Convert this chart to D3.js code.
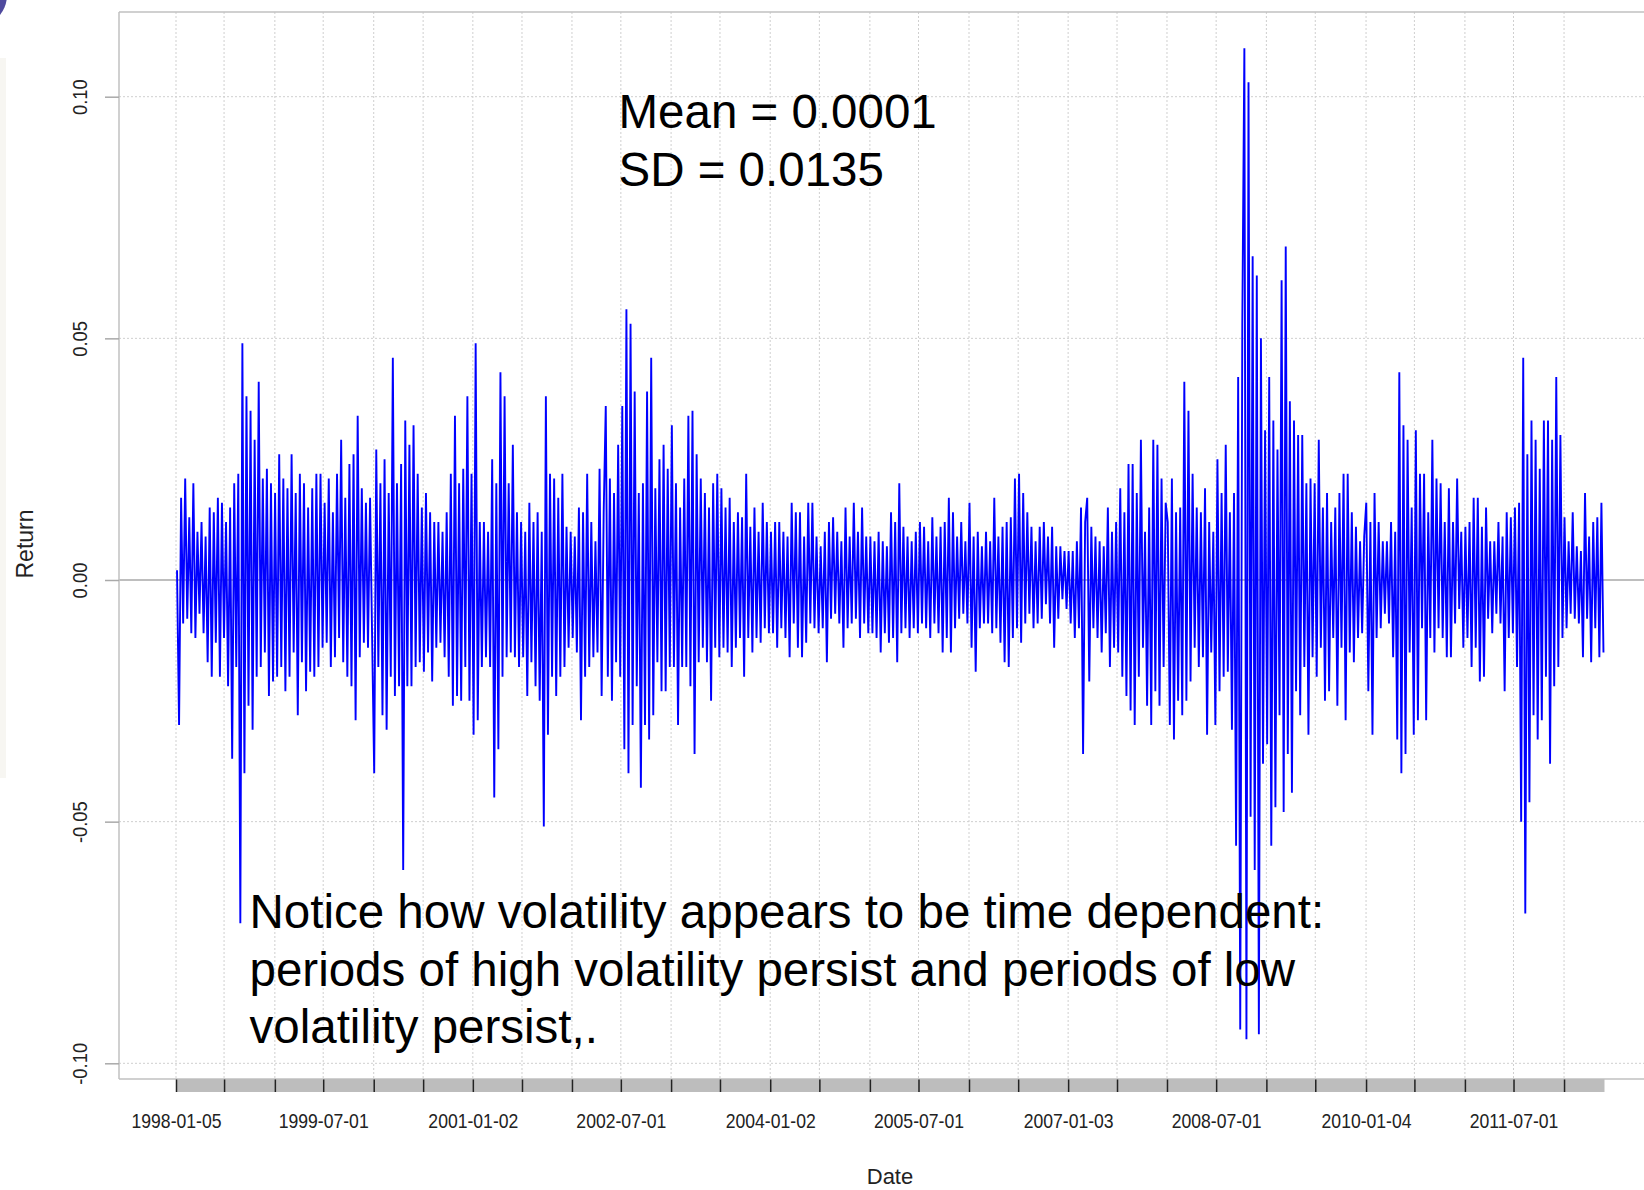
<!DOCTYPE html>
<html>
<head>
<meta charset="utf-8">
<script src="https://cdn.jsdelivr.net/npm/d3@7"></script>
<style>
  body { margin: 0; background: #fff; }
  svg { display: block; font-family: "Liberation Sans", Arial, sans-serif; }
</style>
</head>
<body>
<div id="chart"></div>
<script>
// daily returns x 1000
// (about one reading every 2px, taken alternately at the top and bottom of the band)
var ret1998 = [2, -30, 17, -9, 21, -8, 13, -11, 20, -12, 10, -7, 12, -11, 9, -17, 15, -20, 14, -13, 17, -20, 16, -12,
  12, -22, 15, -37, 20, -18, 22, -71, 49, -40, 38, -26, 35, -31, 29, -20, 41, -18, 21, -15, 23, -24, 20, -21];
var ret1999 = [18, -20, 26, -18, 21, -23, 19, -20, 26, -15, 18, -28, 22, -17, 20, -23, 15, -19, 19, -20, 22, -18, 22, -14,
  16, -13, 21, -18, 14, -16, 22, -12, 29, -17, 17, -20, 24, -22, 26, -29, 34, -16, 19, -13, 16, -14, 17, -12];
var ret2000 = [-40, 27, -18, 20, -28, 25, -31, 18, -20, 46, -24, 20, -22, 24, -60, 33, -22, 28, -22, 32, -18, 22, -17, 15,
  -19, 18, -15, 14, -21, 12, -14, 12, -13, 10, -16, 14, -20, 22, -26, 34, -24, 20, -25, 23, -18, 38, -25, 22];
var ret2001 = [-32, 49, -29, 12, -18, 12, -16, 10, -18, 25, -45, 20, -35, 43, -20, 38, -16, 20, -15, 28, -16, 14, -18, 12,
  -16, 10, -24, 16, -17, 12, -22, 14, -25, 10, -51, 38, -32, 22, -20, 21, -24, 17, -20, 22, -18, 11, -14, 10];
var ret2002 = [-12, 9, -15, 15, -29, 14, -20, 22, -18, 12, -16, 8, -15, 23, -24, 14, 36, -20, 21, -25, 18, -17, 28, -20,
  36, -35, 56, -40, 53, -30, 39, -22, 18, -43, 20, -30, 39, -33, 46, -28, 19, -17, 25, -23, 28, -23, 23, -18];
var ret2003 = [32, -18, 20, -30, 15, -18, 21, -18, 34, -22, 35, -36, 26, -17, 21, -14, 18, -17, 15, -25, 20, -14, 22, -16,
  19, -14, 15, -15, 17, -18, 12, -14, 14, -12, 13, -20, 22, -12, 11, -15, 15, -12, 10, -13, 16, -10, 12, -11];
var ret2004 = [10, -11, 12, -14, 12, -10, 10, -12, 9, -16, 16, -9, 14, -14, 14, -16, 9, -13, 16, -9, 16, -10, 9, -11,
  7, -10, 10, -17, 12, -8, 13, -7, 10, -9, 8, -14, 15, -10, 9, -9, 16, -8, 10, -12, 15, -9, 9, -11];
var ret2005 = [9, -11, 8, -12, 10, -15, 8, -11, 7, -13, 14, -12, 12, -17, 20, -11, 11, -10, 9, -12, 8, -10, 10, -11,
  12, -9, 11, -10, 8, -12, 13, -9, 9, -11, 11, -15, 12, -12, 17, -15, 14, -10, 9, -8, 12, -7, 8, -9];
var ret2006 = [16, -14, 9, -19, 10, -10, 7, -9, 10, -9, 8, -11, 17, -10, 9, -13, 11, -17, 12, -18, 13, -12, 21, -10,
  22, -13, 18, -9, 14, -7, 11, -10, 8, -9, 11, -8, 12, -5, 9, -9, 11, -14, 7, -8, 7, -4, 6, -6];
var ret2007 = [6, -9, 6, -12, 8, -10, 15, -36, 12, 17, -21, 11, -10, 9, -12, 8, -15, 7, -11, 15, -18, 10, -14, 12,
  -15, 19, -20, 14, -24, 24, -27, 24, -30, 18, -20, 29, -14, 10, -26, 15, -30, 29, -23, 28, -26, 21, -18, 16];
var ret2008 = [12, -30, 21, -33, 14, -25, 15, -28, 41, -25, 35, -21, 22, -14, 15, -18, 14, -16, 19, -32, 12, -15, 10, -30,
  25, -23, 18, -20, 28, -19, 14, -31, 18, -55, 42, -93, 53, 110, -95, 103, -49, 67, -60, 63, -94, 50, -38, 31];
var ret2009 = [-34, 42, -55, 33, -47, 27, -28, 62, -48, 69, -36, 37, -44, 33, -23, 30, -28, 30, -18, 20, -32, 21, -16, 20,
  -20, 29, -14, 15, -25, 18, -23, 12, -12, 15, -26, 18, -14, 22, -29, 22, -15, 14, -17, 11, -12, 8, -11, 9];
var ret2010 = [16, -23, 12, -32, 18, -12, 12, -10, 8, -7, 8, -9, 12, -16, 10, -33, 43, -40, 32, -36, 29, -15, 15, -32,
  31, -29, 22, -10, 22, -29, 14, -12, 29, -15, 21, -10, 20, -12, 12, -16, 19, -16, 12, -9, 21, -6, 10, -14];
var ret2011 = [11, -12, 12, -18, 17, -14, 17, -21, 11, -20, 15, -8, 8, -11, 8, -7, 12, -9, 9, -23, 14, -12, 13, -11,
  15, -18, 16, -50, 46, -69, 26, -46, 33, -28, 29, -33, 23, -29, 33, -20, 33, -38, 29, -22, 42, -18, 30, -12];
var ret2012 = [13, -10, 8, -7, 14, -8, 7, -9, 6, -16, 18, -8, 9, -17, 12, -10, 13, -16, 16, -15];

var years = [1998, 1999, 2000, 2001, 2002, 2003, 2004, 2005, 2006, 2007, 2008, 2009, 2010, 2011, 2012];
var yearData = [ret1998, ret1999, ret2000, ret2001, ret2002, ret2003, ret2004, ret2005, ret2006, ret2007,
  ret2008, ret2009, ret2010, ret2011, ret2012];

var startDate = "1998-01-05";
var endDate = "2012-05-31";

// half-year ticks on the bar under the plot
var tickDates = ["1998-01-05", "1998-07-01", "1999-01-04", "1999-07-01", "2000-01-03", "2000-07-03",
  "2001-01-02", "2001-07-02", "2002-01-02", "2002-07-01", "2003-01-02", "2003-07-01",
  "2004-01-02", "2004-07-01", "2005-01-03", "2005-07-01", "2006-01-03", "2006-07-03",
  "2007-01-03", "2007-07-02", "2008-01-02", "2008-07-01", "2009-01-02", "2009-07-01",
  "2010-01-04", "2010-07-01", "2011-01-03", "2011-07-01", "2012-01-03"];
var tickLabels = ["1998-01-05", "1999-07-01", "2001-01-02", "2002-07-01", "2004-01-02",
  "2005-07-01", "2007-01-03", "2008-07-01", "2010-01-04", "2011-07-01"];
var yTicks = [-0.10, -0.05, 0.00, 0.05, 0.10];

var statLines = ["Mean = 0.0001", "SD = 0.0135"];
var noteLines = ["Notice how volatility appears to be time dependent:",
  "periods of high volatility persist and periods of low",
  "volatility persist,."];

var width = 1644, height = 1190;
var plotLeft = 119, plotTop = 12, plotBottom = 1079, plotRight = 1700;

var parse = d3.utcParse("%Y-%m-%d");
var t0 = parse(startDate), t1 = parse(endDate);

// spread each year's readings evenly over the part of the year that is on the chart
var points = [];
years.forEach(function(yr, i) {
  var vals = yearData[i];
  var a = Math.max(Date.UTC(yr, 0, 1), +t0);
  var b = Math.min(Date.UTC(yr + 1, 0, 1), +t1);
  var step = (b - a) / vals.length;
  vals.forEach(function(v, k) {
    points.push({ date: new Date(a + (k + 0.5) * step), ret: v / 1000 });
  });
});

var x = d3.scaleUtc().domain([t0, t1]).range([176, 1604.5]);
var y = d3.scaleLinear().domain([-0.1, 0.1]).range([1063.3, 96.7]);

// R prints a plain hyphen, not the unicode minus
var fmt = d3.formatLocale({ decimal: ".", thousands: ",", grouping: [3], currency: ["", ""], minus: "-" }).format(".2f");

var svg = d3.select("#chart").append("svg")
  .attr("width", width).attr("height", height);

svg.append("rect").attr("width", width).attr("height", height).attr("fill", "#fff");

// bits of the slide behind the chart
svg.append("rect").attr("x", 0).attr("y", 58).attr("width", 6).attr("height", 720)
  .attr("fill", "#f7f6f2");
svg.append("circle").attr("cx", -25).attr("cy", -5).attr("r", 32).attr("fill", "#4f4a9e");

// grid
var grid = svg.append("g");
grid.selectAll(".vgrid")
  .data(tickDates.map(parse))
  .enter().append("line")
  .attr("x1", function(d) { return x(d); })
  .attr("x2", function(d) { return x(d); })
  .attr("y1", plotTop).attr("y2", plotBottom)
  .attr("stroke", "#cfcfcf").attr("stroke-width", 1)
  .attr("stroke-dasharray", "2,2");
grid.selectAll(".hgrid")
  .data(yTicks.filter(function(d) { return d !== 0; }))
  .enter().append("line")
  .attr("x1", plotLeft).attr("x2", plotRight)
  .attr("y1", function(d) { return y(d); })
  .attr("y2", function(d) { return y(d); })
  .attr("stroke", "#cfcfcf").attr("stroke-width", 1)
  .attr("stroke-dasharray", "2,2");
grid.append("line")
  .attr("x1", plotLeft).attr("x2", plotRight)
  .attr("y1", y(0)).attr("y2", y(0))
  .attr("stroke", "#a9a9a9").attr("stroke-width", 1.5);

// the return series
var line = d3.line()
  .x(function(d) { return x(d.date); })
  .y(function(d) { return y(d.ret); });
svg.append("path")
  .datum(points)
  .attr("d", line)
  .attr("fill", "none")
  .attr("stroke", "#0000ff")
  .attr("stroke-width", 1.9);

// plot frame
var frame = svg.append("g").attr("stroke", "#c0c0c0").attr("stroke-width", 1.5);
frame.append("line").attr("x1", plotLeft).attr("x2", plotLeft).attr("y1", plotTop).attr("y2", plotBottom);
frame.append("line").attr("x1", plotLeft).attr("x2", plotRight).attr("y1", plotTop).attr("y2", plotTop);
frame.append("line").attr("x1", plotLeft).attr("x2", plotRight).attr("y1", plotBottom).attr("y2", plotBottom);

// y axis
var yAxis = svg.append("g")
  .attr("transform", "translate(" + plotLeft + ",0)")
  .call(d3.axisLeft(y).tickValues(yTicks).tickFormat(fmt).tickSize(14));
yAxis.select(".domain").remove();
yAxis.selectAll(".tick line").attr("stroke", "#a9a9a9").attr("stroke-width", 1.5);
yAxis.selectAll(".tick text")
  .attr("x", null).attr("dy", null)
  .attr("text-anchor", "middle")
  .attr("transform", "translate(-32,0) rotate(-90) scale(0.92,1)")
  .attr("font-size", 20)
  .attr("font-family", "Liberation Sans, Arial, sans-serif")
  .attr("fill", "#222");

// date bar with the half-year ticks
svg.append("rect")
  .attr("x", x(t0)).attr("y", plotBottom)
  .attr("width", x(t1) - x(t0)).attr("height", 13)
  .attr("fill", "#bdbdbd");
var xAxis = svg.append("g")
  .attr("transform", "translate(0," + (plotBottom + 0.5) + ")")
  .call(d3.axisBottom(x)
    .tickValues(tickDates.map(parse))
    .tickSize(12.5)
    .tickFormat(function(d) {
      var s = d3.utcFormat("%Y-%m-%d")(d);
      return tickLabels.indexOf(s) >= 0 ? s : "";
    }));
xAxis.select(".domain").remove();
xAxis.selectAll(".tick line").attr("stroke", "#222").attr("stroke-width", 1.5);
xAxis.selectAll(".tick text")
  .attr("y", 48.5).attr("dy", null)
  .attr("transform", "scale(0.88,1)")
  .attr("font-size", 20)
  .attr("font-family", "Liberation Sans, Arial, sans-serif")
  .attr("fill", "#222");

// axis titles
svg.append("text")
  .attr("transform", "translate(33,544) rotate(-90)")
  .attr("text-anchor", "middle")
  .attr("font-size", 23)
  .attr("fill", "#222")
  .text("Return");
svg.append("text")
  .attr("x", 890).attr("y", 1184)
  .attr("text-anchor", "middle")
  .attr("font-size", 22)
  .attr("fill", "#222")
  .text("Date");

// annotations
svg.selectAll(".stat")
  .data(statLines)
  .enter().append("text")
  .attr("x", 618.5)
  .attr("y", function(d, i) { return 128 + i * 57.6; })
  .attr("font-size", 47.5)
  .attr("fill", "#000")
  .text(function(d) { return d; });
svg.selectAll(".note")
  .data(noteLines)
  .enter().append("text")
  .attr("x", 249.5)
  .attr("y", function(d, i) { return 928 + i * 57.6; })
  .attr("font-size", 47.5)
  .attr("fill", "#000")
  .text(function(d) { return d; });
</script>
</body>
</html>
